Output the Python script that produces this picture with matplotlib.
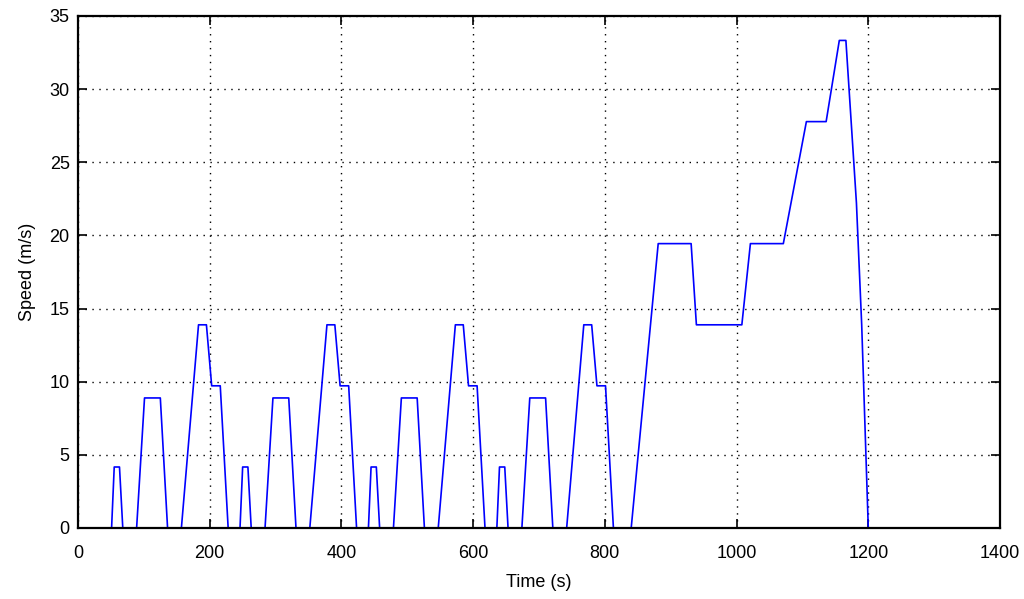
import matplotlib
matplotlib.use("Agg")
import matplotlib.pyplot as plt

# NEDC-like speed profile, breakpoints (time in s, speed in m/s)
time_s = [0,
          51, 55, 63, 68, 89, 101, 125, 136, 157, 183, 195, 203, 216, 228,
          246, 250, 258, 263, 284, 296, 320, 331, 352, 378, 390, 398, 411, 423,
          441, 445, 453, 458, 479, 491, 515, 526, 547, 573, 585, 593, 606, 618,
          636, 640, 648, 653, 674, 686, 710, 721, 742, 768, 780, 788, 801, 813,
          840, 881, 931, 939, 1008, 1021, 1071, 1106, 1136, 1156, 1166, 1182, 1190, 1200, 1220]
speed_ms = [0,
            0, 4.17, 4.17, 0, 0, 8.89, 8.89, 0, 0, 13.89, 13.89, 9.72, 9.72, 0,
            0, 4.17, 4.17, 0, 0, 8.89, 8.89, 0, 0, 13.89, 13.89, 9.72, 9.72, 0,
            0, 4.17, 4.17, 0, 0, 8.89, 8.89, 0, 0, 13.89, 13.89, 9.72, 9.72, 0,
            0, 4.17, 4.17, 0, 0, 8.89, 8.89, 0, 0, 13.89, 13.89, 9.72, 9.72, 0,
            0, 19.44, 19.44, 13.89, 13.89, 19.44, 19.44, 27.78, 27.78, 33.33, 33.33, 22.22, 13.89, 0, 0]

x_ticks = [0, 200, 400, 600, 800, 1000, 1200, 1400]
y_ticks = [0, 5, 10, 15, 20, 25, 30, 35]

plt.rcParams['font.family'] = ['Liberation Sans', 'DejaVu Sans']

fig = plt.figure(figsize=(10.24, 5.99), dpi=100)
ax = fig.add_axes([78/1024, 1 - 528/599, (1000 - 78)/1024, (528 - 16)/599])
ax.plot(time_s, speed_ms, color=(0, 0, 1), linewidth=1.2, zorder=2)
ax.set_xlim(0, 1400)
ax.set_ylim(0, 35)
ax.set_xticks(x_ticks)
ax.set_yticks(y_ticks)
ax.grid(True, color='black', linestyle=(0, (1, 4)), linewidth=1.0)
ax.tick_params(direction='in', length=6.5, width=1.2, top=True, right=True,
               labelsize=13)
ax.tick_params(axis='x', pad=12)
ax.tick_params(axis='y', pad=6)
for s in ax.spines.values():
    s.set_linewidth(1.6)
    s.set_zorder(3)
ax.set_xlabel('Time (s)', fontsize=13, labelpad=9)
ax.set_ylabel('Speed (m/s)', fontsize=13, labelpad=10)
fig.savefig('out.png', dpi=100)
